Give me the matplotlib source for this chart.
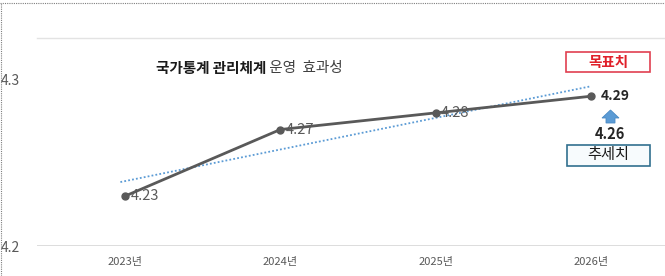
import numpy as np
import matplotlib
import matplotlib.pyplot as plt
from matplotlib.lines import Line2D
from matplotlib.patches import Rectangle, Polygon

plt.rcParams['font.family'] = ['Noto Sans CJK KR', 'DejaVu Sans']

years = ['2023년', '2024년', '2025년', '2026년']
scores = [4.23, 4.27, 4.28, 4.29]
trend_value = 4.26
y_ticks = [4.2, 4.3]
y_tick_labels = ['4.2', '4.3']

fig = plt.figure(figsize=(6.65, 2.76), dpi=100)
W, H = 665, 276
# axes from x=37px to right edge, y from 38px to 246px (top origin)
ax = fig.add_axes([37/W, (H-246)/H, (W-37)/W, 208/H])

x = np.arange(len(years))
ax.plot(x, scores, color='#595959', lw=2, marker='o', ms=5, zorder=3)

# linear trend line
k, b = np.polyfit(x, scores, 1)
ax.plot([x[0]-0.03, x[-1]-0.01], [k*(x[0]-0.03)+b, k*(x[-1]-0.01)+b],
        color='#5b9bd5', lw=1.3, ls=(0, (1, 1.2)), zorder=2)

for i, v in enumerate(scores[:-1]):
    ax.annotate(f'{v:.2f}', (x[i], v), xytext=(4, 0), textcoords='offset points',
                ha='left', va='center', fontsize=10.5, color='#595959')
ax.annotate(f'{scores[-1]:.2f}', (x[-1], scores[-1]), xytext=(7, 0),
            textcoords='offset points', ha='left', va='center', fontsize=10,
            fontweight='bold', color='#262626')

ax.set_xlim(-0.567, 3.477)
ax.set_ylim(4.2, 4.325)
ax.set_xticks(x)
ax.set_xticklabels(years, fontsize=8, color='#595959')
ax.set_yticks(y_ticks)
ax.set_yticklabels(y_tick_labels, fontsize=10, color='#595959')
ax.tick_params(axis='x', length=0, pad=8)
ax.tick_params(axis='y', length=0, pad=12)
for s in ['left', 'right', 'bottom']:
    ax.spines[s].set_visible(False)
ax.spines['top'].set_color('#e3e3e3')
ax.spines['top'].set_linewidth(1)
ax.axhline(4.2, color='#d9d9d9', lw=2, zorder=1)

# title: bold part + normal part
fig.text(266/W, 1-68/H, '국가통계 관리체계', ha='right', va='center',
         fontsize=10.5, fontweight='bold', color='#1a1a1a')
fig.text(266/W, 1-68/H, ' 운영  효과성', ha='left', va='center',
         fontsize=10.5, color='#404040')

# target / trend boxes (pixel boxes from the top-left corner)
fig.add_artist(Rectangle((566/W, 1-72/H), 84/W, 20/H, transform=fig.transFigure,
                         fc='white', ec='#e04050', lw=1.2))
fig.text(608/W, 1-62/H, '목표치', ha='center', va='center', fontsize=10.5,
         fontweight='bold', color='#e0202a')
fig.add_artist(Rectangle((567/W, 1-166/H), 83/W, 21/H, transform=fig.transFigure,
                         fc='#f7fbfd', ec='#31708f', lw=1.2))
fig.text(608/W, 1-155/H, '추세치', ha='center', va='center', fontsize=11,
         color='#1a1a1a')

# block arrow from trend value up to target
arrow_px = [(602, 118), (610.5, 110), (619, 118), (615, 118), (615, 123),
            (606, 123), (606, 118)]
fig.add_artist(Polygon([(px/W, 1-py/H) for px, py in arrow_px], closed=True,
                       transform=fig.transFigure, fc='#5b9bd5', ec='#4a8ac4', lw=0.6))
fig.text(610/W, 1-134/H, f'{trend_value:.2f}', ha='center', va='center',
         fontsize=10.5, fontweight='bold', color='#262626')

# dotted outer frame
fig.add_artist(Line2D([0, 1], [1-3/H, 1-3/H], color='#7f7f7f', lw=0.8, ls=(0, (1, 1))))
fig.add_artist(Line2D([1/W, 1/W], [0, 1-3/H], color='#7f7f7f', lw=0.8, ls=(0, (1, 1))))

fig.savefig('out.png', dpi=100)
